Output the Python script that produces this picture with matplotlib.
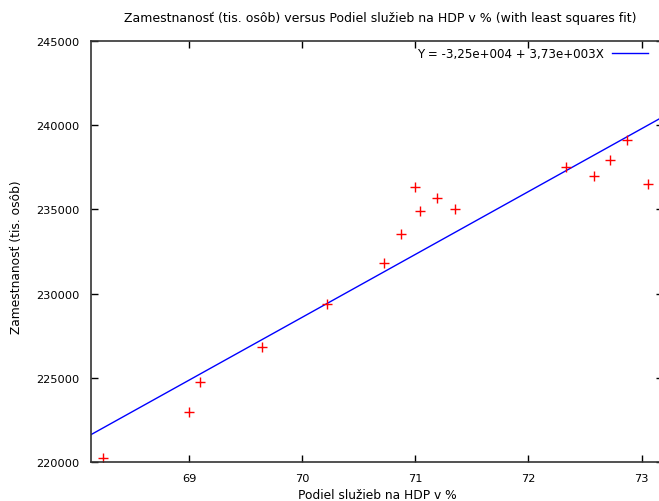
import numpy as np
from matplotlib import pyplot as plt

# share of services in GDP (%) vs employment (thousands)
podiel = [68.24, 69.00, 69.09, 69.64, 70.22, 70.72, 70.87, 71.00,
          71.04, 71.19, 71.35, 72.33, 72.58, 72.72, 72.87, 73.06]
zamestnanost = [220240, 222970, 224750, 226830, 229380, 231820, 233540, 236330,
                234900, 235680, 235020, 237520, 236980, 237930, 239120, 236510]

intercept = -3.25e4
slope = 3.73e3
fit_label = 'Y = -3,25e+004 + 3,73e+003X'

plt.rcParams['font.family'] = 'DejaVu Sans'
plt.rcParams['font.size'] = 8.2

fig = plt.figure(figsize=(6.59, 5.02), dpi=100)
ax = fig.add_axes([91 / 659, 39 / 502, 572 / 659, 421 / 502])

xmin, xmax = 68.13, 73.19
xs = np.array([xmin, xmax])
ax.plot(xs, intercept + slope * xs, color='#0000ff', lw=1.0, label=fit_label)
ax.plot(podiel, zamestnanost, '+', color='red', ms=7, mew=1.0, linestyle='none')

ax.set_xlim(xmin, xmax)
ax.set_ylim(220000, 245000)
ax.set_xticks([69, 70, 71, 72, 73])
ax.set_yticks(range(220000, 245001, 5000))
ax.tick_params(direction='in', top=True, right=True, length=5, width=1, pad=8)
for s in ax.spines.values():
    s.set_linewidth(1.2)
    s.set_color('#333333')

fig.text(17 / 659, 1 - 257 / 502, 'Zamestnanosť (tis. osôb)', ha='center', va='center',
         rotation=90, fontsize=8.8)
fig.text(377 / 659, 1 - 496 / 502, 'Podiel služieb na HDP v %', ha='center', va='center',
         fontsize=8.8)
fig.text(380 / 659, 1 - 18 / 502, 'Zamestnanosť (tis. osôb) versus Podiel služieb na HDP v % (with least squares fit)',
         ha='center', va='center', fontsize=9)

ax.legend(loc='upper right', frameon=False, markerfirst=False, handlelength=3.0,
          handletextpad=0.7, borderpad=0, borderaxespad=0, fontsize=8.6,
          bbox_to_anchor=(648 / 659, 1 - 48 / 502),
          bbox_transform=fig.transFigure)

fig.savefig('out.png', dpi=100)
